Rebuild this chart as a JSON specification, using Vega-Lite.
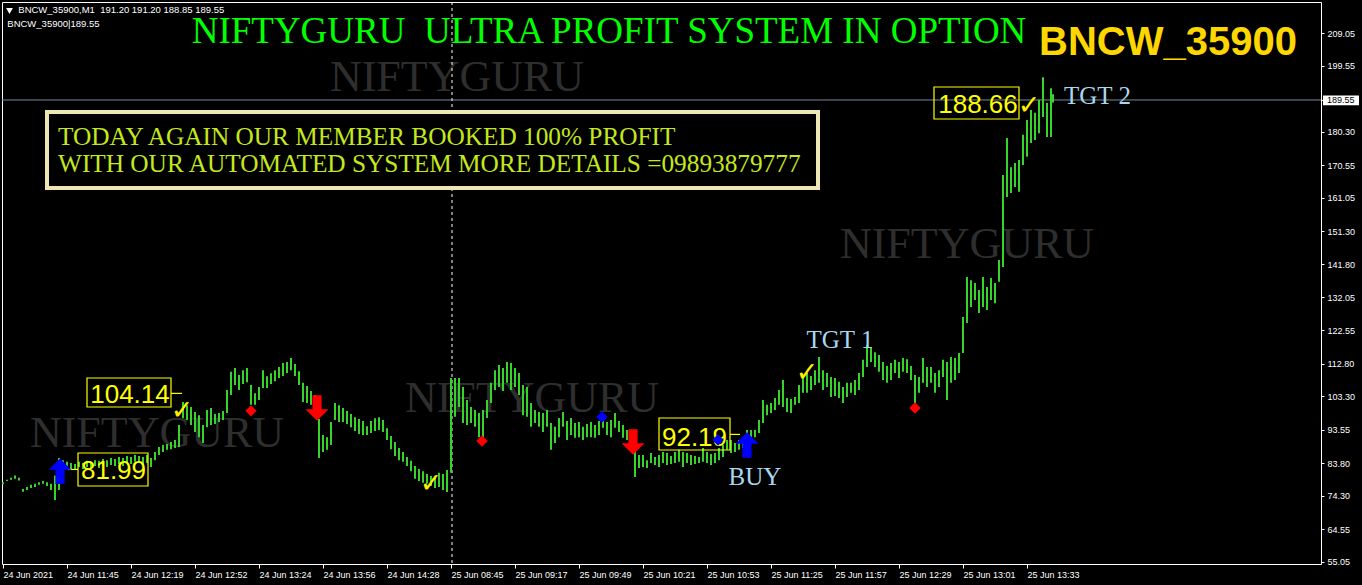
{
  "$schema": "https://vega.github.io/schema/vega-lite/v6.json",
  "width": 1319,
  "height": 562,
  "autosize": {"type": "none"},
  "padding": {"left": 2, "top": 2, "right": 41, "bottom": 21},
  "background": "#000000",
  "config": {
    "view": {"stroke": "#ffffff", "strokeWidth": 1, "fill": "#000000"},
    "axis": {"domain": false, "grid": false, "labelColor": "#ffffff", "tickColor": "#ffffff", "labelFont": "Liberation Sans", "labelFontSize": 9, "labelOverlap": false, "labelBound": false, "labelFlush": false},
    "axisY": {"labelOverlap": false},
    "axisQuantitative": {"labelOverlap": false}
  },
  "datasets": {
    "bars": [
      {"i":0,"p":78.3,"l":77.7},{"i":2,"p":79.0,"l":78.6},{"i":4,"p":79.6,"l":79.0},{"i":6,"p":80.2,"l":79.3},{"i":8,"p":79.6,"l":78.8},
      {"i":10,"p":76.3,"l":75.5},{"i":12,"p":76.9,"l":76.0},{"i":14,"p":77.5,"l":76.6},{"i":16,"p":77.8,"l":76.9},{"i":18,"p":78.3,"l":77.5},
      {"i":20,"p":78.6,"l":77.8},{"i":22,"p":78.3,"l":77.2},{"i":24,"p":77.8,"l":76.0},{"i":26,"p":80.2,"l":73.1},{"i":28,"p":85.3,"l":76.0},
      {"i":30,"p":84.7,"l":82.4},{"i":32,"p":84.2,"l":82.4},{"i":34,"p":83.9,"l":81.8},{"i":36,"p":83.6,"l":82.1},{"i":38,"p":84.2,"l":82.7},
      {"i":40,"p":83.9,"l":82.1},{"i":42,"p":84.5,"l":82.7},{"i":44,"p":84.2,"l":82.4},{"i":46,"p":84.7,"l":83.0},{"i":48,"p":84.5,"l":82.4},
      {"i":50,"p":85.0,"l":83.0},{"i":52,"p":84.7,"l":82.7},{"i":54,"p":85.3,"l":83.3},{"i":56,"p":85.0,"l":83.0},{"i":58,"p":85.6,"l":83.6},
      {"i":60,"p":85.3,"l":83.0},{"i":62,"p":85.9,"l":83.9},{"i":64,"p":85.6,"l":83.6},{"i":66,"p":86.2,"l":84.2},{"i":68,"p":85.9,"l":83.9},
      {"i":70,"p":85.6,"l":83.3},{"i":72,"p":86.2,"l":83.9},{"i":74,"p":85.3,"l":82.7},{"i":76,"p":87.1,"l":84.7},{"i":78,"p":88.5,"l":86.2},
      {"i":80,"p":89.1,"l":87.1},{"i":82,"p":89.4,"l":87.7},{"i":84,"p":90.0,"l":87.9},{"i":86,"p":90.6,"l":88.2},{"i":88,"p":94.9,"l":88.5},
      {"i":90,"p":101.6,"l":96.9},{"i":92,"p":100.7,"l":96.4},{"i":94,"p":100.2,"l":94.9},{"i":96,"p":98.7,"l":92.9},{"i":98,"p":97.8,"l":91.4},
      {"i":100,"p":94.9,"l":89.7},{"i":102,"p":99.3,"l":94.3},{"i":104,"p":99.9,"l":94.9},{"i":106,"p":98.1,"l":95.2},{"i":108,"p":98.4,"l":95.8},
      {"i":110,"p":99.0,"l":96.4},{"i":112,"p":105.1,"l":98.4},{"i":114,"p":110.4,"l":103.7},{"i":116,"p":111.5,"l":106.6},{"i":118,"p":109.5,"l":105.1},
      {"i":120,"p":110.9,"l":106.9},{"i":122,"p":111.5,"l":107.4},{"i":124,"p":106.6,"l":100.8},{"i":126,"p":104.2,"l":100.8},{"i":128,"p":106.0,"l":102.2},
      {"i":130,"p":110.9,"l":105.7},{"i":132,"p":109.1,"l":105.7},{"i":134,"p":110.0,"l":106.9},{"i":136,"p":110.9,"l":107.7},{"i":138,"p":111.8,"l":108.6},
      {"i":140,"p":113.0,"l":109.2},{"i":142,"p":113.3,"l":110.1},{"i":144,"p":114.4,"l":110.9},{"i":146,"p":112.7,"l":109.2},{"i":148,"p":110.6,"l":106.6},
      {"i":150,"p":107.2,"l":101.6},{"i":152,"p":106.3,"l":101.3},{"i":154,"p":104.8,"l":100.8},{"i":156,"p":103.7,"l":99.3},{"i":158,"p":96.7,"l":85.3},
      {"i":160,"p":92.0,"l":87.1},{"i":162,"p":91.4,"l":87.7},{"i":164,"p":95.8,"l":89.1},{"i":166,"p":101.3,"l":96.4},{"i":168,"p":100.7,"l":95.8},
      {"i":170,"p":99.9,"l":95.8},{"i":172,"p":99.0,"l":95.2},{"i":174,"p":98.1,"l":94.3},{"i":176,"p":97.2,"l":93.2},{"i":178,"p":96.7,"l":92.3},
      {"i":180,"p":96.1,"l":92.0},{"i":182,"p":94.6,"l":92.0},{"i":184,"p":96.1,"l":92.6},{"i":186,"p":96.9,"l":93.2},{"i":188,"p":97.2,"l":93.5},
      {"i":190,"p":96.4,"l":92.9},{"i":192,"p":94.0,"l":90.6},{"i":194,"p":91.7,"l":87.9},{"i":196,"p":90.0,"l":85.9},{"i":198,"p":88.2,"l":84.7},
      {"i":200,"p":87.1,"l":84.2},{"i":202,"p":85.6,"l":83.0},{"i":204,"p":84.5,"l":81.5},{"i":206,"p":83.0,"l":79.3},{"i":208,"p":82.1,"l":78.6},
      {"i":210,"p":81.5,"l":78.1},{"i":212,"p":80.7,"l":77.8},{"i":214,"p":80.1,"l":77.2},{"i":216,"p":79.6,"l":76.6},{"i":218,"p":81.0,"l":76.9},
      {"i":220,"p":80.7,"l":76.0},{"i":222,"p":81.8,"l":75.4},{"i":224,"p":108.6,"l":81.0},{"i":226,"p":108.6,"l":97.3},{"i":228,"p":108.6,"l":100.2},
      {"i":230,"p":106.0,"l":95.5},{"i":232,"p":102.2,"l":94.9},{"i":234,"p":100.2,"l":95.5},{"i":236,"p":99.3,"l":94.4},{"i":238,"p":98.4,"l":91.4},
      {"i":240,"p":99.3,"l":91.4},{"i":242,"p":102.2,"l":97.0},{"i":244,"p":107.2,"l":101.3},{"i":246,"p":110.9,"l":105.1},{"i":248,"p":112.4,"l":106.0},
      {"i":250,"p":111.5,"l":104.8},{"i":252,"p":113.3,"l":107.2},{"i":254,"p":113.0,"l":105.1},{"i":256,"p":111.5,"l":106.0},{"i":258,"p":110.1,"l":103.7},
      {"i":260,"p":106.6,"l":97.8},{"i":262,"p":106.0,"l":97.3},{"i":264,"p":101.3,"l":94.4},{"i":266,"p":99.3,"l":95.5},{"i":268,"p":98.7,"l":94.4},
      {"i":270,"p":98.4,"l":92.9},{"i":272,"p":99.3,"l":94.4},{"i":274,"p":95.5,"l":87.7},{"i":276,"p":94.4,"l":89.7},{"i":278,"p":97.0,"l":91.4},
      {"i":280,"p":98.7,"l":94.4},{"i":282,"p":96.1,"l":90.6},{"i":284,"p":97.0,"l":92.0},{"i":286,"p":95.5,"l":91.2},{"i":288,"p":95.8,"l":91.4},
      {"i":290,"p":94.4,"l":90.6},{"i":292,"p":95.2,"l":91.4},{"i":294,"p":95.8,"l":91.4},{"i":296,"p":94.9,"l":91.2},{"i":298,"p":96.1,"l":92.0},
      {"i":300,"p":97.0,"l":94.1},{"i":302,"p":95.8,"l":92.0},{"i":304,"p":96.4,"l":91.4},{"i":306,"p":98.4,"l":94.1},{"i":308,"p":96.1,"l":92.9},
      {"i":310,"p":94.9,"l":91.2},{"i":312,"p":93.5,"l":90.6},{"i":314,"p":92.6,"l":89.1},{"i":316,"p":87.1,"l":79.8},{"i":318,"p":86.2,"l":82.4},
      {"i":320,"p":86.2,"l":82.7},{"i":322,"p":84.7,"l":82.4},{"i":324,"p":86.8,"l":83.9},{"i":326,"p":85.6,"l":83.3},{"i":328,"p":86.2,"l":82.7},
      {"i":330,"p":87.1,"l":83.9},{"i":332,"p":86.8,"l":83.3},{"i":334,"p":85.9,"l":83.6},{"i":336,"p":87.1,"l":83.9},{"i":338,"p":87.7,"l":84.2},
      {"i":340,"p":87.1,"l":82.7},{"i":342,"p":86.8,"l":83.9},{"i":344,"p":86.2,"l":83.3},{"i":346,"p":85.9,"l":83.6},{"i":348,"p":85.6,"l":83.9},
      {"i":350,"p":88.2,"l":84.2},{"i":352,"p":87.1,"l":83.9},{"i":354,"p":86.5,"l":83.3},{"i":356,"p":86.8,"l":83.9},{"i":358,"p":88.2,"l":84.7},
      {"i":360,"p":89.1,"l":85.6},{"i":362,"p":90.6,"l":87.7},{"i":364,"p":90.6,"l":86.8},{"i":366,"p":89.7,"l":87.1},{"i":368,"p":90.6,"l":87.7},
      {"i":370,"p":91.4,"l":88.2},{"i":372,"p":93.5,"l":90.6},{"i":374,"p":93.5,"l":90.0},{"i":376,"p":93.5,"l":91.4},{"i":378,"p":96.4,"l":92.6},
      {"i":380,"p":102.2,"l":95.5},{"i":382,"p":100.8,"l":97.8},{"i":384,"p":101.3,"l":98.4},{"i":386,"p":102.8,"l":99.3},{"i":388,"p":105.1,"l":100.8},
      {"i":390,"p":108.0,"l":100.2},{"i":392,"p":102.8,"l":98.7},{"i":394,"p":102.5,"l":98.4},{"i":396,"p":103.1,"l":100.8},{"i":398,"p":106.6,"l":101.3},
      {"i":400,"p":108.9,"l":104.3},{"i":402,"p":110.1,"l":104.3},{"i":404,"p":109.2,"l":105.1},{"i":406,"p":110.9,"l":106.6},{"i":408,"p":114.7,"l":107.2},
      {"i":410,"p":110.9,"l":105.1},{"i":412,"p":110.1,"l":106.0},{"i":414,"p":108.9,"l":103.1},{"i":416,"p":108.6,"l":103.4},{"i":418,"p":107.5,"l":102.8},
      {"i":420,"p":106.0,"l":101.3},{"i":422,"p":107.2,"l":103.1},{"i":424,"p":107.2,"l":104.3},{"i":426,"p":108.0,"l":103.7},{"i":428,"p":110.1,"l":105.1},
      {"i":430,"p":113.9,"l":108.9},{"i":432,"p":118.2,"l":111.8},{"i":434,"p":117.6,"l":113.3},{"i":436,"p":116.1,"l":111.8},{"i":438,"p":115.3,"l":110.4},
      {"i":440,"p":113.3,"l":108.0},{"i":442,"p":112.1,"l":107.2},{"i":444,"p":113.0,"l":108.0},{"i":446,"p":113.9,"l":110.1},{"i":448,"p":113.3,"l":108.6},
      {"i":450,"p":114.4,"l":110.4},{"i":452,"p":114.1,"l":110.1},{"i":454,"p":112.1,"l":108.0},{"i":456,"p":109.5,"l":101.3},{"i":458,"p":108.9,"l":104.3},
      {"i":460,"p":114.4,"l":107.2},{"i":462,"p":111.8,"l":106.0},{"i":464,"p":111.8,"l":107.2},{"i":466,"p":110.1,"l":104.3},{"i":468,"p":110.9,"l":106.0},
      {"i":470,"p":113.9,"l":108.9},{"i":472,"p":113.3,"l":102.2},{"i":474,"p":114.7,"l":107.2},{"i":476,"p":114.4,"l":108.0},{"i":478,"p":115.9,"l":110.1},
      {"i":480,"p":126.4,"l":115.9},{"i":482,"p":138.0,"l":124.6},{"i":484,"p":137.1,"l":129.3},{"i":486,"p":136.3,"l":131.3},{"i":488,"p":134.2,"l":127.5},
      {"i":490,"p":138.0,"l":129.3},{"i":492,"p":135.1,"l":128.4},{"i":494,"p":137.7,"l":131.3},{"i":496,"p":136.3,"l":130.4},{"i":498,"p":143.0,"l":136.6},
      {"i":500,"p":167.7,"l":140.9},{"i":502,"p":178.5,"l":161.3},{"i":504,"p":170.0,"l":162.5},{"i":506,"p":171.2,"l":164.2},{"i":508,"p":172.1,"l":162.8},
      {"i":510,"p":179.4,"l":170.6},{"i":512,"p":183.7,"l":173.0},{"i":514,"p":186.6,"l":177.0},{"i":516,"p":185.8,"l":177.9},{"i":518,"p":189.6,"l":179.9},
      {"i":520,"p":196.2,"l":184.6},{"i":522,"p":188.7,"l":178.8},{"i":524,"p":193.0,"l":178.8},{"i":525,"p":191.2,"l":188.85}
    ]
  },
  "encoding": {
    "x": {"field": "i", "type": "quantitative", "scale": {"domain": [-0.5, 659], "nice": false, "zero": false},
      "axis": {"orient": "bottom", "title": null, "labelOverlap": false, "values": [0,32,64,96,128,160,192,224,256,288,320,352,384,416,448,480,512], "tickSize": 4, "labelPadding": 2, "labelAlign": "left", "labelBaseline": "top",
        "labelExpr": "['24 Jun 2021','24 Jun 11:45','24 Jun 12:19','24 Jun 12:52','24 Jun 13:24','24 Jun 13:56','24 Jun 14:28','25 Jun 08:45','25 Jun 09:17','25 Jun 09:49','25 Jun 10:21','25 Jun 10:53','25 Jun 11:25','25 Jun 11:57','25 Jun 12:29','25 Jun 13:01','25 Jun 13:33'][round(datum.value/32)]"}},
    "y": {"field": "p", "type": "quantitative", "scale": {"domain": [54.465, 218.075], "nice": false, "zero": false},
      "axis": {"orient": "right", "title": null, "labelOverlap": false, "values": [209.05,199.55,189.55,180.30,170.55,161.05,151.30,141.80,132.05,122.55,112.80,103.30,93.55,83.80,74.30,64.55,55.05], "tickSize": 3, "labelPadding": 3,
        "labelExpr": "datum.value == 189.55 ? '' : format(datum.value, '.2f')"}}
  },
  "layer": [
    {
      "data": {"values": [{"i":227,"p":192.17,"t":"NIFTYGURU"},{"i":77,"p":88.53,"t":"NIFTYGURU"},{"i":264.5,"p":98.72,"t":"NIFTYGURU"},{"i":482,"p":143.55,"t":"NIFTYGURU"}]},
      "mark": {"type": "text", "font": "Liberation Serif", "fontSize": 44, "color": "#2e2e2e", "align": "center", "baseline": "alphabetic"},
      "encoding": {"text": {"field": "t"}}
    },
    {
      "data": {"values": [{"i": -0.5, "i2": 659, "p": 189.55}]},
      "mark": {"type": "rule", "color": "#778899", "strokeWidth": 1},
      "encoding": {"x2": {"field": "i2"}}
    },
    {
      "data": {"values": [{"i": 224.5, "p": 218.075, "l": 54.465}]},
      "mark": {"type": "rule", "color": "#ffffff", "strokeWidth": 1, "strokeDash": [3, 3]},
      "encoding": {"y2": {"field": "l"}}
    },
    {
      "data": {"name": "bars"},
      "mark": {"type": "rule", "color": "#36d42a", "strokeWidth": 2},
      "encoding": {"y2": {"field": "l"}}
    },
    {
      "data": {"values": [{"i":303,"p":206.14,"t":"NIFTYGURU\u00a0 ULTRA PROFIT SYSTEM IN OPTION"}]},
      "mark": {"type": "text", "font": "Liberation Serif", "fontSize": 37, "color": "#00ff00", "align": "center", "baseline": "alphabetic"},
      "encoding": {"text": {"field": "t"}}
    },
    {
      "data": {"values": [{"i":582.5,"p":202.65,"t":"BNCW_35900"}]},
      "mark": {"type": "text", "font": "Liberation Sans", "fontWeight": "bold", "fontSize": 40, "color": "#ffd700", "align": "center", "baseline": "alphabetic"},
      "encoding": {"text": {"field": "t"}}
    },
    {
      "data": {"values": [{"i":7.65,"p":214.78,"t":"BNCW_35900,M1\u00a0 191.20 191.20 188.85 189.55"},{"i":2.15,"p":210.88,"t":"BNCW_35900|189.55"}]},
      "mark": {"type": "text", "font": "Liberation Sans", "fontSize": 9.5, "color": "#ffffff", "align": "left", "baseline": "alphabetic"},
      "encoding": {"text": {"field": "t"}}
    },
    {
      "data": {"values": [{"i":3.25,"p":215.45}]},
      "mark": {"type": "point", "shape": "triangle-down", "filled": true, "size": 45, "color": "#ffffff", "opacity": 1}
    },
    {
      "data": {"values": [{"i":22,"i2":407.5,"p":186.05,"l":163.93}]},
      "mark": {"type": "rect", "fill": "#000000", "stroke": "#eee6b3", "strokeWidth": 4},
      "encoding": {"x2": {"field": "i2"}, "y2": {"field": "l"}}
    },
    {
      "data": {"values": [{"i":27.5,"p":176.45,"t":"TODAY AGAIN OUR MEMBER BOOKED 100% PROFIT"},{"i":27.5,"p":168.58,"t":"WITH OUR AUTOMATED SYSTEM MORE DETAILS =09893879777"}]},
      "mark": {"type": "text", "font": "Liberation Serif", "fontSize": 25.3, "color": "#c5e81c", "align": "left", "baseline": "alphabetic"},
      "encoding": {"text": {"field": "t"}}
    },
    {
      "data": {"values": [{"i":42,"i2":84,"p":108.61,"l":100.17},{"i":37.5,"i2":72.5,"p":86.78,"l":77.17},{"i":328,"i2":363.5,"p":96.97,"l":87.65},{"i":465.5,"i2":508,"p":193.33,"l":184.01}]},
      "mark": {"type": "rect", "fill": "transparent", "stroke": "#ffff00", "strokeWidth": 1.2},
      "encoding": {"x2": {"field": "i2"}, "y2": {"field": "l"}}
    },
    {
      "data": {"values": [{"i":84,"i2":89.5,"p":104.14},{"i":32.5,"i2":37.5,"p":81.99},{"i":363.5,"i2":368.5,"p":92.19}]},
      "mark": {"type": "rule", "color": "#ffff00", "strokeWidth": 1.2},
      "encoding": {"x2": {"field": "i2"}}
    },
    {
      "data": {"values": [{"i":63.5,"p":101.34,"t":"104.14"},{"i":55.25,"p":79.21,"t":"81.99"},{"i":345.75,"p":88.82,"t":"92.19"},{"i":487.5,"p":185.76,"t":"188.66"}]},
      "mark": {"type": "text", "font": "Liberation Sans", "fontSize": 26, "color": "#ffff00", "align": "center", "baseline": "alphabetic"},
      "encoding": {"text": {"field": "t"}}
    },
    {
      "data": {"values": [{"i":89.5,"p":99.0},{"i":214,"p":77.8},{"i":402,"p":110.1},{"i":513,"p":187.8}]},
      "mark": {"type": "text", "font": "DejaVu Sans", "fontSize": 27, "fontWeight": "bold", "color": "#ffee00", "align": "center", "baseline": "middle", "text": "✓"}
    },
    {
      "data": {"values": [{"i":124,"p":99.05,"side":"sell"},{"i":239.5,"p":90.27,"side":"sell"},{"i":456,"p":99.9,"side":"sell"},{"i":299.5,"p":97.26,"side":"buy"},{"i":357.5,"p":90.56,"side":"buy"}]},
      "mark": {"type": "point", "shape": "diamond", "filled": true, "size": 130, "opacity": 1},
      "encoding": {
        "color": {"field": "side", "type": "nominal", "scale": {"domain": ["buy", "sell"], "range": ["#0000ff", "#ff0000"]}, "legend": null}
      }
    },
    {
      "data": {"values": [{"i":28.5,"p":81.5,"side":"buy"},{"i":372,"p":89.1,"side":"buy"},{"i":157,"p":99.9,"side":"sell"},{"i":315,"p":90.0,"side":"sell"}]},
      "mark": {"type": "point", "filled": true, "size": 650, "opacity": 1},
      "encoding": {
        "color": {"field": "side", "type": "nominal", "scale": {"domain": ["buy", "sell"], "range": ["#0000ff", "#ff0000"]}, "legend": null},
        "shape": {"field": "side", "type": "nominal", "scale": {"domain": ["buy", "sell"], "range": ["M0,-1L0.9,-0.1L0.36,-0.1L0.36,1L-0.36,1L-0.36,-0.1L-0.9,-0.1Z", "M0,1L0.9,0.1L0.36,0.1L0.36,-1L-0.36,-1L-0.36,0.1L-0.9,0.1Z"]}, "legend": null}
      }
    },
    {
      "data": {"values": [{"i":418.5,"p":117.35,"t":"TGT 1"},{"i":547.25,"p":188.38,"t":"TGT 2"},{"i":376,"p":77.47,"t":"BUY"}]},
      "mark": {"type": "text", "font": "Liberation Serif", "fontSize": 25, "color": "#a8d8f0", "align": "center", "baseline": "alphabetic"},
      "encoding": {"text": {"field": "t"}}
    },
    {
      "data": {"values": [{"i": 660, "i2": 678, "p": 190.85, "l": 188.0}]},
      "mark": {"type": "rect", "fill": "#ffffff"},
      "encoding": {"x2": {"field": "i2"}, "y2": {"field": "l"}}
    },
    {
      "data": {"values": [{"i": 662, "p": 189.55, "t": "189.55"}]},
      "mark": {"type": "text", "font": "Liberation Sans", "fontSize": 9, "color": "#000000", "align": "left", "baseline": "middle"},
      "encoding": {"text": {"field": "t"}}
    }
  ]
}
